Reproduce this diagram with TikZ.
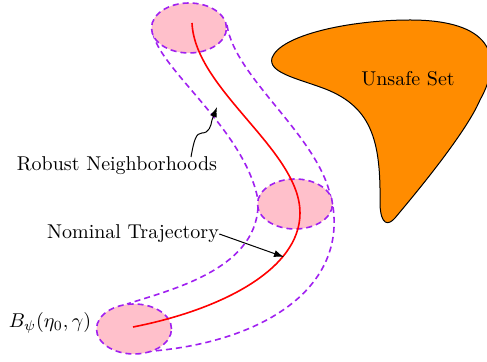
\documentclass[tikz,border=0pt]{standalone}
\usetikzlibrary{shapes.geometric,arrows.meta}
\definecolor{tubeviolet}{RGB}{160,32,240}
\definecolor{ballpink}{RGB}{255,192,203}
\definecolor{unsafeorange}{RGB}{255,140,0}
\tikzset{
  tube/.style={draw=tubeviolet, line width=0.8pt, dash pattern=on 3pt off 2pt},
  ball/.style={ellipse, draw=tubeviolet, fill=ballpink, line width=0.8pt, dash pattern=on 3pt off 2pt, minimum width=37.5pt, minimum height=25pt, inner sep=0pt},
  traj/.style={draw=red, line width=0.8pt},
  lbl/.style={inner sep=0pt, font=\normalsize},
  pointer/.style={draw=black, line width=0.5pt, -{Latex[length=5pt,width=3.5pt]}}
}
\begin{document}
\begin{tikzpicture}[x=0.5pt,y=-0.5pt]
\useasboundingbox (0,0) rectangle (487,362);
% unsafe set
\begin{scope}
\clip (0,0) rectangle (487,362);
\path[fill=unsafeorange, draw=black, line width=0.5pt]
  (272,58) .. controls (280,35) and (350,20) .. (410,20)
  .. controls (490,20) and (505,55) .. (480,100)
  .. controls (465,135) and (410,200) .. (395,218)
  .. controls (388,226) and (381,225) .. (380,205)
  .. controls (381,140) and (372,105) .. (320,87)
  .. controls (295,78) and (268,72) .. (272,58) -- cycle;
\end{scope}
\node[lbl] (unsafe) at (408,79) {Unsafe Set};
% tube boundaries
\draw[tube] (153,33) .. controls (160,70) and (245,130) .. (258,200);
\draw[tube] (227,25) .. controls (235,80) and (325,140) .. (332,205);
\draw[tube] (258,207) .. controls (255,270) and (170,290) .. (127,304);
\draw[tube] (333,207) .. controls (345,290) and (260,345) .. (140,352);
% balls
\node[ball] (ballTop) at (189,28) {};
\node[ball] (ballMid) at (295,204) {};
\node[ball] (ballBot) at (134,329) {};
% nominal trajectory
\draw[traj] (192,23) .. controls (195,90) and (300,150) .. (300,213)
  .. controls (300,270) and (220,310) .. (133,327);
% labels
\node[lbl] (robust) at (117,166) {Robust Neighborhoods};
\node[lbl] (nominal) at (133,234) {Nominal Trajectory};
\node[lbl] (bpsi) at (50,323) {$B_\psi(\eta_0,\gamma)$};
\coordinate (rnStart) at (191,157);
\coordinate (rnTip) at (217,107);
\coordinate (ntTip) at (284,257);
\draw[pointer] (rnStart) .. controls (194,140) and (196,133) .. (202,133)
  .. controls (209,133) and (211,126) .. (212,120) -- (rnTip);
\draw[pointer] (nominal.east) -- (ntTip);
\end{tikzpicture}
\end{document}
